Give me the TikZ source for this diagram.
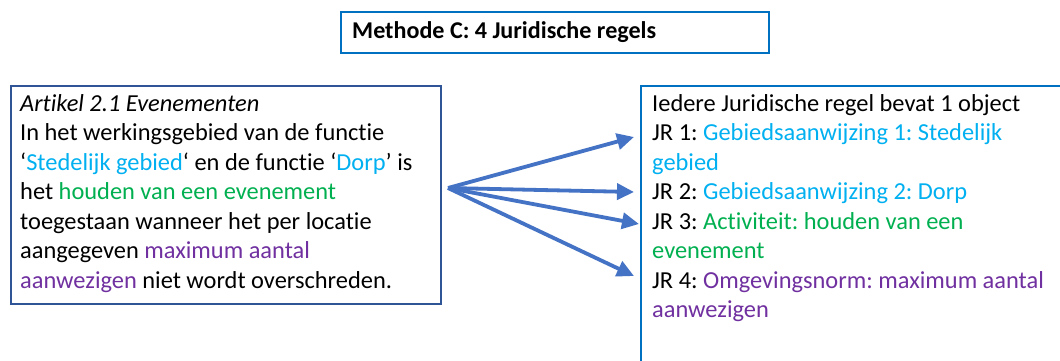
\documentclass[tikz,border=0pt]{standalone}
\usepackage{fontspec}
\setmainfont{Carlito}[Ligatures={NoCommon}]
\usetikzlibrary{arrows.meta}
\definecolor{cyantxt}{HTML}{00B0F0}
\definecolor{greentxt}{HTML}{00B050}
\definecolor{purpletxt}{HTML}{7030A0}
\definecolor{boxblue}{HTML}{0070C0}
\definecolor{darkblue}{HTML}{2F5597}
\definecolor{arrowblue}{HTML}{4472C4}
\newcommand{\cy}[1]{\textcolor{cyantxt}{#1}}
\newcommand{\gr}[1]{\textcolor{greentxt}{#1}}
\newcommand{\pu}[1]{\textcolor{purpletxt}{#1}}
\frenchspacing
\begin{document}
\begin{tikzpicture}[x=1pt,y=-1pt,
  frame/.style={draw, line width=2.2pt, inner sep=0pt, anchor=north west},
  txt/.style={anchor=north west, inner sep=0pt, align=left, font=\fontsize{24.4}{29.5}\selectfont},
  conn/.style={draw=arrowblue, line width=3.8pt, -{Triangle[length=17pt,width=16pt]}}]
\useasboundingbox[fill=white] (0,0) rectangle (1060,361);
% title
\node[frame, draw=boxblue, minimum width=428pt, minimum height=41pt] (titlebox) at (340,11) {};
\node[anchor=west, inner sep=0pt, font=\fontsize{24.1}{28}\selectfont\bfseries] (title) at (352,32) {Methode C: 4 Juridische regels};
% left box
\node[frame, draw=darkblue, minimum width=430pt, minimum height=218pt] (leftbox) at (10,85) {};
\node[txt] (lefttext) at (20,94) {\textit{Artikel 2.1 Evenementen}\\
In het werkingsgebied van de functie\\
‘\cy{Stedelijk gebied}‘ en de functie ‘\cy{Dorp}’ is\\
het \gr{houden van een evenement}\\
toegestaan wanneer het per locatie\\
aangegeven \pu{maximum aantal}\\
\pu{aanwezigen} niet wordt overschreden.};
% right box (extends beyond the page)
\node[frame, draw=boxblue, minimum width=500pt, minimum height=400pt] (rightbox) at (640,85) {};
\node[txt] (righttext) at (652,94) {Iedere Juridische regel bevat 1 object\\
JR 1: \cy{Gebiedsaanwijzing 1: Stedelijk}\\
\cy{gebied}\\
JR 2: \cy{Gebiedsaanwijzing 2: Dorp}\\
JR 3: \gr{Activiteit: houden van een}\\
\gr{evenement}\\
JR 4: \pu{Omgevingsnorm: maximum aantal}\\
\pu{aanwezigen}};
% arrows
\coordinate (src) at (448,188);
\coordinate (t1) at (634,137);
\coordinate (t2) at (634,192);
\coordinate (t3) at (639,224);
\coordinate (t4) at (634,276);
\draw[conn] (src) -- (t1);
\draw[conn] (src) -- (t2);
\draw[conn] (src) -- (t3);
\draw[conn] (src) -- (t4);
\end{tikzpicture}
\end{document}
